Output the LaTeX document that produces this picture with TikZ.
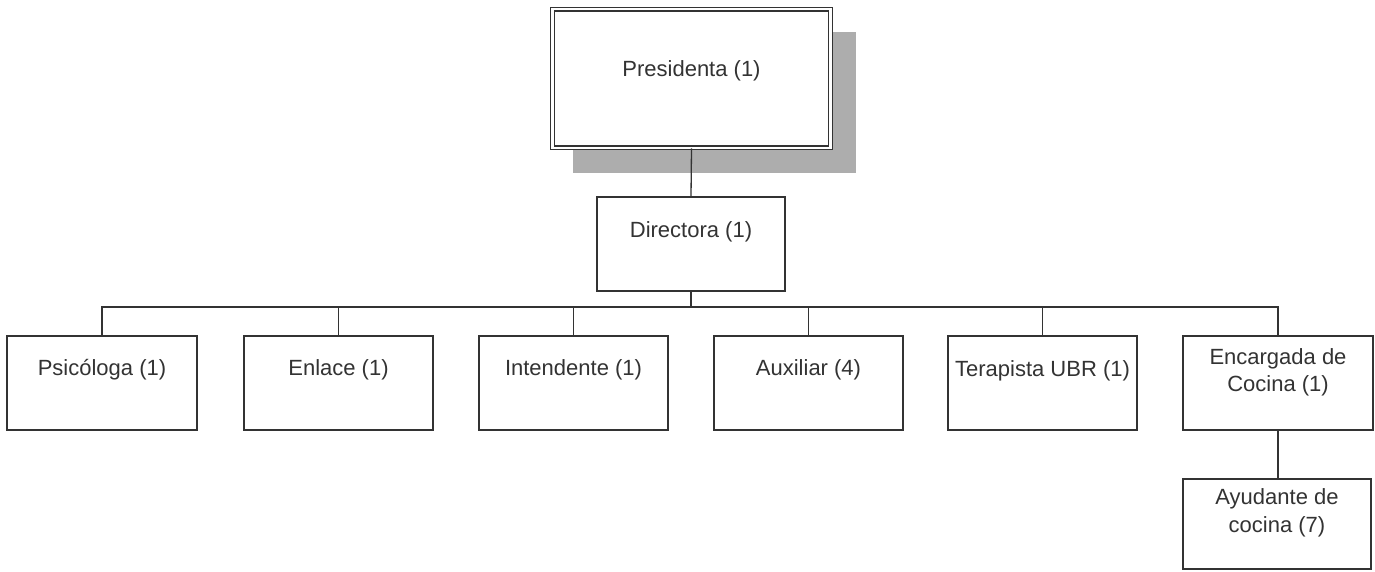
\documentclass[tikz,border=0pt]{standalone}
\usepackage{fontspec}
\setmainfont{Liberation Sans}
\begin{document}
\begin{tikzpicture}[x=1pt,y=-1pt,
  ink/.style={draw=black!80, line width=1.3pt},
  box/.style={ink, fill=white, rectangle, inner sep=0pt},
  lbl/.style={text=black!80, font=\fontsize{22}{27.5}\selectfont, align=center, inner sep=0pt},
  shadowbox/.style={fill=black!32, draw=none}]
\useasboundingbox (0,0) rectangle (1375,571);
% shadow of the top box
\fill[shadowbox] (573,32) rectangle (856,173);
% top box
\node[box, double, double distance=2.4pt, line width=1.3pt, minimum width=278pt, minimum height=138.5pt] (pres) at (691.5,78.5) {};
\node[lbl] (presT) at (691.5,71) {Presidenta (1)};
% director
\node[box, minimum width=188pt, minimum height=94pt] (dir) at (691,244) {};
\node[lbl] (dirT) at (691,232) {Directora (1)};
% children
\node[box, minimum width=190pt, minimum height=94pt] (psi) at (102,383) {};
\node[box, minimum width=189pt, minimum height=94pt] (enl) at (338.5,383) {};
\node[box, minimum width=189pt, minimum height=94pt] (int) at (573.5,383) {};
\node[box, minimum width=189pt, minimum height=94pt] (aux) at (808.5,383) {};
\node[box, minimum width=189pt, minimum height=94pt] (ter) at (1042.5,383) {};
\node[box, minimum width=190pt, minimum height=94pt] (enc) at (1278,383) {};
\node[box, minimum width=188pt, minimum height=90pt] (ayu) at (1277,524) {};
\node[lbl] (psiT) at (102,370) {Psicóloga (1)};
\node[lbl] (enlT) at (338.5,370) {Enlace (1)};
\node[lbl] (intT) at (573.5,370) {Intendente (1)};
\node[lbl] (auxT) at (808.5,370) {Auxiliar (4)};
\node[lbl] (terT) at (1042.5,371) {Terapista UBR (1)};
\node[lbl] (encT) at (1278,372.5) {Encargada de\\Cocina (1)};
\node[lbl] (ayuT) at (1277,513) {Ayudante de\\cocina (7)};
% connectors
\coordinate (bus) at (691,307);
\draw[ink] (pres.south) -- (dir.north);
\draw[ink] (dir.south) -- (bus);
\foreach \c in {psi,enl,int,aux,ter,enc}
  \draw[ink] (\c.north) |- (bus);
\draw[ink] (enc.south) -- (enc.south |- ayu.north);
\end{tikzpicture}
\end{document}
